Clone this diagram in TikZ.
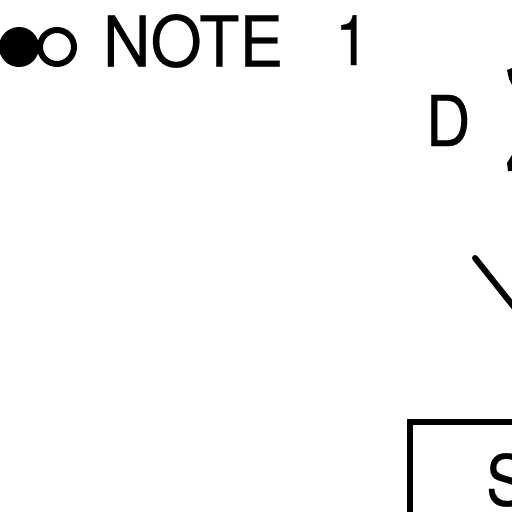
\documentclass[tikz,border=0pt]{standalone}
\usepackage{fontspec}
\setmainfont{TeX Gyre Heros}[FakeBold=0.4]
\tikzset{
  ink/.style={line width=6pt,line cap=round,line join=miter,draw=black},
  lab/.style={inner sep=0pt,outer sep=0pt,anchor=base west,text=black,font=\fontsize{70}{70}\selectfont},
  dot/.style={circle,inner sep=0pt,outer sep=0pt,minimum size=40pt}
}
\begin{document}
\begin{tikzpicture}[x=1pt,y=-1pt]
\useasboundingbox (0,0) rectangle (512,512);
\clip (0,0) rectangle (512,512);
\node[dot,fill=black] (full) at (19,47) {};
\node[dot,draw=black,line width=6pt,minimum size=34pt,fill=white] (open) at (57,47) {};
\node[lab,xscale=.94] (note) at (103,66.5) {NOTE};
\node[lab,xscale=.88] (one) at (335,65) {1};
\node[lab,xscale=.88] (d) at (426,146) {D};
\node[lab,xscale=.88] (s) at (486,505.5) {S};
\coordinate (a) at (475,258);
\coordinate (b) at (514,307);
\draw[ink] (a) -- (b);
\coordinate (c) at (530,422);
\coordinate (e) at (410,422);
\coordinate (f) at (410,530);
\draw[ink,line cap=butt,line width=6pt] (c) -- (e) -- (f);
\fill (507,70) -- (512,68) -- (512,85) -- (509,79) -- cycle;
\fill (512,155) -- (507,163) -- (508,171) -- (512,171) -- cycle;
\end{tikzpicture}
\end{document}
